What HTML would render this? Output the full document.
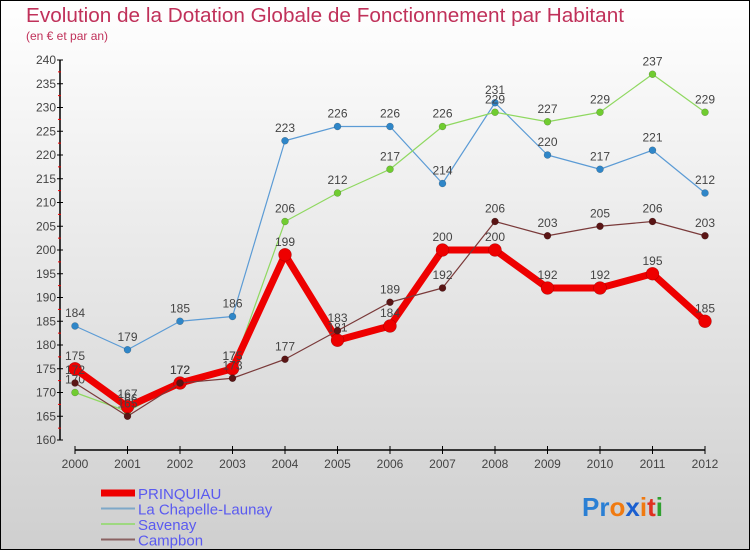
<!DOCTYPE html>
<html><head><meta charset="utf-8"><style>
body{margin:0;}
#wrap{width:750px;height:550px;position:relative;overflow:hidden;}
svg text{font-family:"Liberation Sans",sans-serif;}
</style></head><body>
<div id="wrap">
<svg id="chart" width="750" height="550" xmlns="http://www.w3.org/2000/svg">
<defs><linearGradient id="bg" x1="0" y1="0" x2="0" y2="1"><stop offset="0" stop-color="#ffffff"/><stop offset="1" stop-color="#cfcfcf"/></linearGradient></defs>
<rect x="0.5" y="0.5" width="749" height="549" fill="url(#bg)" stroke="#000"/>
<text x="26" y="22" font-size="20" fill="#c0315a" textLength="598" lengthAdjust="spacingAndGlyphs">Evolution de la Dotation Globale de Fonctionnement par Habitant</text>
<text x="26" y="40" font-size="12" fill="#c0315a">(en € et par an)</text>
<g id="axes"></g><g id="series"></g><g id="legend"></g>
<text x="582" y="516" font-size="26" font-weight="bold"><tspan fill="#2a7fd4">Pr</tspan><tspan fill="#f07a10">o</tspan><tspan fill="#1a5fd0">x</tspan><tspan fill="#f07a10">i</tspan><tspan fill="#e03020">t</tspan><tspan fill="#30a030">i</tspan></text>
</svg></div>
<script>
const years=["2000","2001","2002","2003","2004","2005","2006","2007","2008","2009","2010","2011","2012"];
const prinquiau=[175,167,172,175,199,181,184,200,200,192,192,195,185];
const chapelle=[184,179,185,186,223,226,226,214,231,220,217,221,212];
const savenay=[170,166,172,175,206,212,217,226,229,227,229,237,229];
const campbon=[172,165,172,173,177,183,189,192,206,203,205,206,203];
const yTicks=[160,165,170,175,180,185,190,195,200,205,210,215,220,225,230,235,240];
const NS="http://www.w3.org/2000/svg";
const x=i=>75+i*52.5;
const y=v=>440-(v-160)*4.75;
function el(tag,attrs,parent){const e=document.createElementNS(NS,tag);for(const k in attrs)e.setAttribute(k,attrs[k]);parent.appendChild(e);return e;}
const axes=document.getElementById('axes');
let a=el('line',{x1:60,y1:60,x2:60,y2:440,stroke:'#000','stroke-width':1.5},axes);


a=el('line',{x1:75,y1:450,x2:705,y2:450,stroke:'#000','stroke-width':1.5},axes);


yTicks.forEach((v,i)=>{
  el('line',{x1:57,x2:63,y1:y(v),y2:y(v),stroke:'#000'},axes);
  if(i<yTicks.length-1)el('line',{x1:58,x2:61,y1:y(v+2.5),y2:y(v+2.5),stroke:'#e00'},axes);
  const t=el('text',{x:56,y:y(v)+4,'text-anchor':'end','font-size':12,fill:'#444'},axes);
  t.textContent=v;
  
  
});
years.forEach((yr,i)=>{
  el('line',{x1:x(i),x2:x(i),y1:446,y2:454,stroke:'#000'},axes);
  const t=el('text',{x:x(i),y:468,'text-anchor':'middle','font-size':12,fill:'#444'},axes);
  t.textContent=yr;
  
  
});
const ser=document.getElementById('series');
function draw(vals,color,dot,w,r,name){
  const g=el('g',{},ser);
  
  
  const pl=el('polyline',{points:vals.map((v,i)=>x(i)+','+y(v)).join(' '),fill:'none',stroke:color,'stroke-width':w,'stroke-linejoin':'round'},g);
  
  
  vals.forEach((v,i)=>{
    const c=el('circle',{cx:x(i),cy:y(v),r:r,fill:dot,stroke:'rgba(0,0,0,0.3)','stroke-width':0.5},g);
    
    
    const t=el('text',{x:x(i),y:y(v)-9,'text-anchor':'middle','font-size':12,fill:'#444'},g);
    t.textContent=v;
    
    
  });
}
draw(chapelle,'#5b9bd5','#2f86c8',1.2,3.5,'la-chapelle-launay');
draw(savenay,'#8fd860','#70cc30',1.2,3.5,'savenay');
draw(prinquiau,'#ee0000','#ee0000',7,6.5,'prinquiau');
draw(campbon,'#7a3a3a','#5a1515',1.2,3.5,'campbon');
const lg=document.getElementById('legend');
const items=[["PRINQUIAU","#ee0000",7],["La Chapelle-Launay","#7ea8c8",2],["Savenay","#9ed880",2],["Campbon","#8a6262",2]];
items.forEach((it,i)=>{
  const yy=493+i*15.5;
  const l=el('line',{x1:101,x2:135,y1:yy,y2:yy,stroke:it[1],'stroke-width':it[2]},lg);
  
  
  const t=el('text',{x:138,y:yy+6,'font-size':15,fill:'#5a5af0'},lg);
  t.textContent=it[0];
  
  
});
</script>
</body></html>
